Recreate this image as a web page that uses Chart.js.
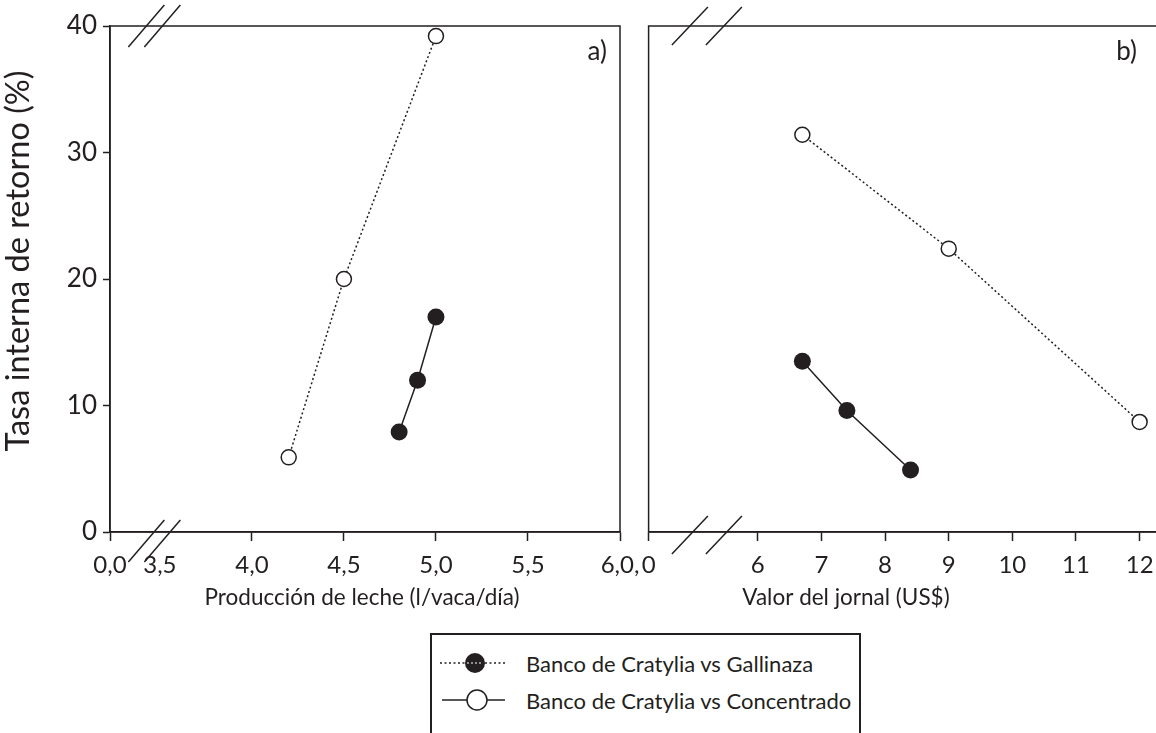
<!DOCTYPE html>
<html>
<head>
<meta charset="utf-8">
<script src="https://cdn.jsdelivr.net/npm/chart.js@4.4.1/dist/chart.umd.min.js"></script>
<style>
	body { margin:0; width:1156px; height:733px; overflow:hidden; background:#fff; position:relative; font-family:Lato, sans-serif; color:#231f20; }
	canvas { position:absolute; top:0; }
	#c1 { left:0; }
	#c2 { left:630px; }
	#leg { position:absolute; left:430px; top:633px; width:427px; height:140px; border:2px solid #231f20; border-bottom:none; }
	.row { position:absolute; left:0; height:30px; display:flex; align-items:center; font-size:22px; }
	.row svg { width:94px; height:30px; flex:none; }
</style>
</head>
<body>
<canvas id="c1" width="660" height="610"></canvas>
<canvas id="c2" width="560" height="610"></canvas>
<div id="leg">
	<div class="row" style="top:13px">
		<svg viewBox="0 0 94 30"><line x1="8" y1="15" x2="73" y2="15" stroke="#231f20" stroke-width="1.5" stroke-dasharray="2 2.5"/><circle cx="43" cy="15" r="10" fill="#231f20"/><line x1="35" y1="15" x2="51" y2="15" stroke="#fff" stroke-width="1.2" stroke-dasharray="2 2"/></svg>
		<span>Banco de Cratylia vs Gallinaza</span>
	</div>
	<div class="row" style="top:50px">
		<svg viewBox="0 0 94 30"><line x1="10" y1="15" x2="73" y2="15" stroke="#231f20" stroke-width="1.5"/><circle cx="45" cy="15" r="10" fill="#fff" stroke="#231f20" stroke-width="1.5"/></svg>
		<span>Banco de Cratylia vs Concentrado</span>
	</div>
</div>
<script>
const ink = '#231f20'
const fnt = 'Lato, sans-serif'

// datos ======================================================================
const yTicks = [0, 10, 20, 30, 40]

// a) produccion de leche (l/vaca/dia)
const milkTicks = [3.5, 4.0, 4.5, 5.0, 5.5, 6.0]
const milkTickLabels = ['0,0', '3,5', '4,0', '4,5', '5,0', '5,5', '6,0,']
const milkGalX = [4.8, 4.9, 5.0]
const milkGalY = [7.9, 12.0, 17.0]
const milkConX = [4.2, 4.5, 5.0]
const milkConY = [5.9, 20.0, 39.2]

// b) valor del jornal (US$)
const wageTicks = [6, 7, 8, 9, 10, 11, 12]
const wageTickLabels = ['0', '6', '7', '8', '9', '10', '11', '12']
const wageGalX = [6.7, 7.4, 8.4]
const wageGalY = [13.5, 9.6, 4.9]
const wageConX = [6.7, 9.0, 12.0]
const wageConY = [31.4, 22.4, 8.7]

const pts = (xs, ys) => xs.map((x, i) => ({x: x, y: ys[i]}))

// marco, cortes de eje y textos ================================================
const frame = {
	id: 'frame',
	afterDraw: (c, _, o) => {
		const ctx = c.ctx, a = c.chartArea
		ctx.save()
		ctx.strokeStyle = ink
		ctx.lineWidth = 1.5
		ctx.strokeRect(a.left, a.top, a.right - a.left, a.bottom - a.top)
		
		const bx = c.scales.x.getPixelForValue(o.brk)
		;[[a.top, o.dTop], [a.bottom, o.dBot]].forEach(([y, d]) => {
			[-o.gap / 2, o.gap / 2].forEach(g => {
				ctx.beginPath()
				ctx.moveTo(bx + g - 18, y + d + o.h)
				ctx.lineTo(bx + g + 18, y + d - o.h)
				ctx.stroke()
			})
		})
		
		ctx.fillStyle = ink
		ctx.textBaseline = 'middle'
		o.texts.forEach(t => {
			ctx.save()
			ctx.translate(t.x, t.y)
			if (t.rot) ctx.rotate(t.rot)
			ctx.font = t.size + 'px ' + fnt
			ctx.textAlign = t.align || 'center'
			ctx.fillText(t.s, 0, 0)
			ctx.restore()
		})
		ctx.restore()
	}
}

const sets = (galX, galY, conX, conY) => [
	{
		label: 'Banco de Cratylia vs Gallinaza',
		data: pts(galX, galY),
		borderColor: ink,
		borderWidth: 1.5,
		pointRadius: 8.5,
		pointBackgroundColor: ink,
		pointBorderWidth: 0,
	},
	{
		label: 'Banco de Cratylia vs Concentrado',
		data: pts(conX, conY),
		borderColor: ink,
		borderWidth: 1.5,
		borderDash: [2, 2.5],
		pointRadius: 7.5,
		pointBackgroundColor: '#fff',
		pointBorderColor: ink,
		pointBorderWidth: 1.5,
	},
]

const xAxis = (min, max, vals, labels, hide) => ({
	type: 'linear', min: min, max: max,
	afterBuildTicks: s => { s.ticks = [min, ...vals].map(v => ({value: v})) },
	afterFit: s => { s.height = 78; s.paddingLeft = 0; s.paddingRight = 0 },
	ticks: {
		callback: (v, i) => labels[i],
		color: ink, font: {family: fnt, size: 24}, padding: 10,
		maxRotation: 0, autoSkip: false,
	},
	grid: {
		drawOnChartArea: false, tickLength: 9, tickWidth: 1.5,
		tickColor: c => (c.tick && c.tick.value === hide) ? 'rgba(0,0,0,0)' : ink,
	},
	border: {color: ink, width: 1.5},
})

// a) ===========================================================================
new Chart(document.getElementById('c1'), {
	type: 'line',
	data: { datasets: sets(milkGalX, milkGalY, milkConX, milkConY) },
	options: {
		responsive: false, animation: false,
		layout: { padding: {top: 26, right: 40, left: 0, bottom: 0} },
		plugins: {
			legend: {display: false}, tooltip: {enabled: false},
			frame: {
				brk: 3.47, gap: 16, h: 21, dTop: 0, dBot: 9,
				texts: [
					{s: 'a)', x: 607, y: 52, size: 26, align: 'right'},
					{s: 'Producción de leche (l/vaca/día)', x: 362, y: 598, size: 22.5},
					{s: 'Tasa interna de retorno (%)', x: 19, y: 261, size: 32.5, rot: -Math.PI / 2},
				],
			},
		},
		scales: {
			x: xAxis(3.229, 6.0, milkTicks, milkTickLabels, 3.5),
			y: {
				min: 0, max: 40,
				afterBuildTicks: s => { s.ticks = yTicks.map(v => ({value: v})) },
				afterFit: s => { s.width = 110 },
				ticks: { color: ink, font: {family: fnt, size: 26}, padding: 6 },
				grid: { drawOnChartArea: false, tickLength: 7, tickWidth: 1.5, tickColor: ink },
				border: {color: ink, width: 1.5},
			},
		},
	},
	plugins: [frame],
})

// b) ===========================================================================
new Chart(document.getElementById('c2'), {
	type: 'line',
	data: { datasets: sets(wageGalX, wageGalY, wageConX, wageConY) },
	options: {
		responsive: false, animation: false,
		layout: { padding: {top: 26, right: 30, left: 18.6, bottom: 0} },
		plugins: {
			legend: {display: false}, tooltip: {enabled: false},
			frame: {
				brk: 5.2, gap: 34, h: 19, dTop: 0, dBot: 3,
				texts: [
					{s: 'b)', x: 507, y: 52, size: 26, align: 'right'},
					{s: 'Valor del jornal (US$)', x: 216, y: 598, size: 22.5},
				],
			},
		},
		scales: {
			x: xAxis(4.284, 12.32, wageTicks, wageTickLabels, null),
			y: { display: false, min: 0, max: 40 },
		},
	},
	plugins: [frame],
})
</script>
</body>
</html>
